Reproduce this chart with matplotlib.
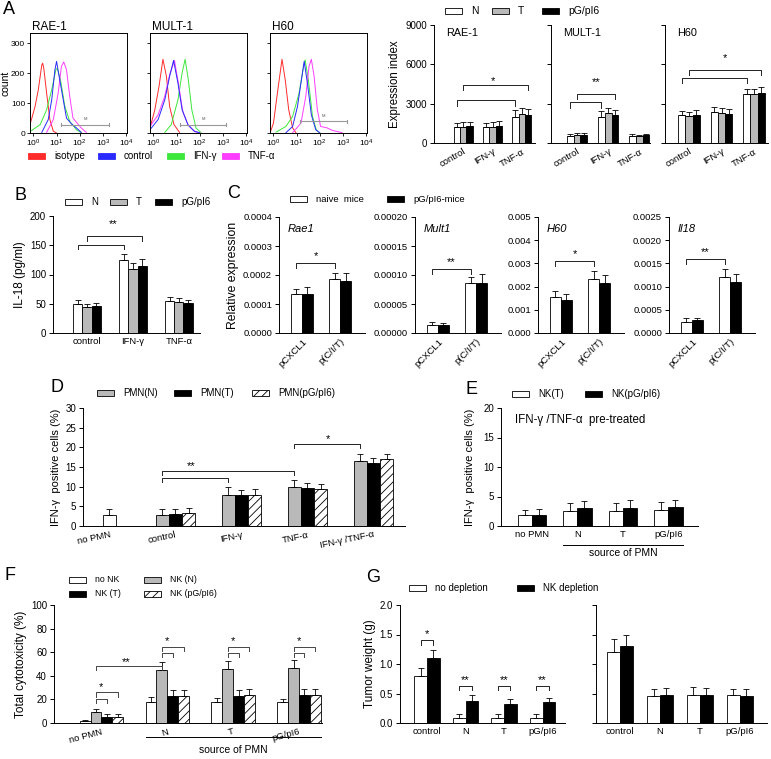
import numpy as np
import matplotlib
matplotlib.use('Agg')
import matplotlib.pyplot as plt
import matplotlib.transforms as mtransforms
from matplotlib.patches import Rectangle
from matplotlib.ticker import FixedLocator, NullLocator, FuncFormatter

plt.rcParams['font.family'] = ['Liberation Sans', 'DejaVu Sans']
plt.rcParams['hatch.linewidth'] = 0.6
plt.rcParams['axes.linewidth'] = 0.7

W, H = 771, 759

# ---------------- A: flow histograms (log10 intensity, count) ----------------
rae_iso = ([-0.15, 0.07, 0.21, 0.36, 0.4, 0.45, 0.57, 0.71, 0.86, 1.0],
           [28, 89, 145, 228, 234, 215, 134, 45, 6, 0])
rae_ctrl = ([0.36, 0.64, 0.79, 0.93, 1.0, 1.11, 1.29, 1.43, 1.64, 1.86, 2.07],
            [2, 45, 111, 212, 240, 190, 111, 50, 31, 17, 2])
rae_ifn = ([-0.15, 0.29, 0.57, 0.79, 0.97, 1.03, 1.17, 1.36, 1.57, 1.86, 2.07],
           [5, 28, 78, 145, 212, 217, 178, 89, 39, 11, 1])
rae_tnf = ([0.57, 0.86, 1.07, 1.21, 1.31, 1.43, 1.57, 1.71, 1.89, 2.07, 2.29],
           [2, 45, 134, 223, 238, 212, 123, 50, 33, 17, 2])

mult_iso = ([-0.15, 0.06, 0.24, 0.41, 0.56, 0.7, 0.89, 1.13],
            [17, 78, 156, 247, 190, 89, 28, 2])
mult_ctrl = ([-0.15, 0.2, 0.49, 0.7, 0.87, 1.06, 1.24, 1.49, 1.77, 1.99],
             [11, 45, 111, 190, 243, 167, 78, 28, 6, 1])
mult_ifn = ([0.49, 0.77, 1.06, 1.24, 1.37, 1.51, 1.66, 1.84, 2.06],
            [2, 28, 111, 201, 247, 178, 78, 17, 1])
mult_tnf = ([-0.15, 0.2, 0.49, 0.7, 0.91, 1.09, 1.27, 1.51, 1.8, 2.01],
            [22, 61, 123, 195, 243, 162, 72, 25, 4, 1])

h60_iso = ([-0.14, 0.0, 0.19, 0.37, 0.51, 0.66, 0.83, 0.97],
           [2, 33, 145, 247, 178, 78, 17, 1])
h60_ctrl = ([0.54, 0.83, 1.04, 1.21, 1.33, 1.47, 1.64, 1.83, 2.0],
            [1, 22, 89, 178, 240, 167, 61, 11, 1])
h60_ifn = ([0.11, 0.54, 0.83, 1.11, 1.29, 1.37, 1.51, 1.69, 1.86, 2.0],
           [3, 22, 56, 134, 217, 245, 178, 56, 9, 1])
h60_tnf = ([0.83, 1.19, 1.4, 1.54, 1.64, 1.76, 1.9, 2.04, 2.33, 2.54, 2.97],
           [1, 33, 123, 223, 247, 190, 78, 22, 17, 9, 1])

hist_titles = ['RAE-1', 'MULT-1', 'H60']
hist_labels = ['isotype', 'control', 'IFN-γ', 'TNF-α']
hist_colors = ['#ff2a2a', '#2a2aff', '#3ce83c', '#ff3cff']

# ---------------- A: expression index bars ----------------
a_groups = ['control', 'IFN-γ', 'TNF-α']
a_rae_N = [1200, 1200, 2000]
a_rae_T = [1250, 1250, 2200]
a_rae_P = [1300, 1300, 2100]
a_rae_Ne = [350, 350, 500]
a_rae_Te = [330, 380, 500]
a_rae_Pe = [330, 350, 500]
a_mult_N = [550, 2000, 550]
a_mult_T = [580, 2250, 520]
a_mult_P = [580, 2150, 580]
a_mult_Ne = [150, 450, 100]
a_mult_Te = [150, 400, 120]
a_mult_Pe = [150, 400, 130]
a_h60_N = [2100, 2400, 3700]
a_h60_T = [2050, 2300, 3700]
a_h60_P = [2150, 2200, 3800]
a_h60_Ne = [350, 350, 450]
a_h60_Te = [350, 350, 450]
a_h60_Pe = [350, 400, 450]

# ---------------- B: IL-18 ----------------
b_groups = ['control', 'IFN-γ', 'TNF-α']
b_N = [50, 125, 55]
b_T = [45, 110, 53]
b_P = [46, 115, 52]
b_Ne = [6, 10, 6]
b_Te = [5, 10, 6]
b_Pe = [6, 11, 5]

# ---------------- C: relative expression ----------------
c_groups = ['pCXCL1', 'p(C/I/T)']
c_titles = ['Rae1', 'Mult1', 'H60', 'Il18']
c_rae_naive = [0.000133, 0.000186]
c_rae_pg = [0.000133, 0.000180]
c_rae_naive_e = [0.000020, 0.000022]
c_rae_pg_e = [0.000025, 0.000027]
c_mult_naive = [0.000014, 0.000086]
c_mult_pg = [0.000013, 0.000086]
c_mult_naive_e = [0.000005, 0.000010]
c_mult_pg_e = [0.000005, 0.000015]
c_h60_naive = [0.00155, 0.00232]
c_h60_pg = [0.00143, 0.00216]
c_h60_naive_e = [0.00025, 0.00037]
c_h60_pg_e = [0.00025, 0.00035]
c_il18_naive = [0.00024, 0.00120]
c_il18_pg = [0.00027, 0.00110]
c_il18_naive_e = [0.00008, 0.00017]
c_il18_pg_e = [0.00006, 0.00017]

# ---------------- D: IFN-γ positive cells ----------------
d_groups = ['no PMN', 'control', 'IFN-γ', 'TNF-α', 'IFN-γ /TNF-α']
d_nopmn = [2.7]
d_nopmn_e = [1.5]
d_N = [2.9, 7.8, 10.0, 16.5]
d_T = [3.0, 7.8, 9.6, 16.1]
d_P = [3.2, 8.0, 9.4, 17.0]
d_Ne = [1.3, 2.0, 1.8, 1.8]
d_Te = [1.3, 1.4, 1.4, 1.3]
d_Pe = [1.3, 1.3, 1.2, 1.2]

# ---------------- E ----------------
e_groups = ['no PMN', 'N', 'T', 'pG/pI6']
e_T = [1.8, 2.6, 2.5, 2.7]
e_P = [1.8, 3.0, 3.1, 3.2]
e_Te = [0.9, 1.3, 1.4, 1.4]
e_Pe = [1.1, 1.2, 1.3, 1.2]

# ---------------- F: cytotoxicity ----------------
f_groups = ['no PMN', 'N', 'T', 'pG/pI6']
f_noNK = [2, 18, 17.5, 17.5]
f_NKN = [9, 45, 46, 46.5]
f_NKT = [5.5, 23, 23, 23.5]
f_NKP = [5.5, 23, 24, 24]
f_noNKe = [0.7, 4, 3.5, 3]
f_NKNe = [3, 6.5, 6.5, 7]
f_NKTe = [2, 5, 5, 5]
f_NKPe = [2, 5, 5, 5]

# ---------------- G: tumor weight ----------------
g_groups = ['control', 'N', 'T', 'pG/pI6']
g_nodep = [0.80, 0.08, 0.08, 0.08]
g_nkdep = [1.10, 0.37, 0.33, 0.35]
g_nodep_e = [0.14, 0.07, 0.07, 0.08]
g_nkdep_e = [0.13, 0.10, 0.07, 0.08]
g2_nodep = [1.20, 0.45, 0.48, 0.47]
g2_nkdep = [1.30, 0.48, 0.47, 0.45]
g2_nodep_e = [0.22, 0.13, 0.13, 0.11]
g2_nkdep_e = [0.19, 0.12, 0.13, 0.12]

WHITE = dict(facecolor='white')
GRAY = dict(facecolor='#b9b9b9')
BLACK = dict(facecolor='black')
HATCH = dict(facecolor='white', hatch='////')

fig = plt.figure(figsize=(W / 100, H / 100), dpi=100)


def px_axes(l, t, r, b):
    return fig.add_axes([l / W, 1 - b / H, (r - l) / W, (b - t) / H])


def bar_axes(l, t, r, b):
    ax = px_axes(l, t, r, b)
    ax.spines['top'].set_visible(False)
    ax.spines['right'].set_visible(False)
    ax.tick_params(axis='y', length=3, width=0.7, labelsize=7, pad=2)
    ax.tick_params(axis='x', length=0, labelsize=6.8, pad=3)
    return ax


def draw_bars(ax, series, errs, styles, width):
    n = len(series)
    for k in range(n):
        x = np.arange(len(series[k])) + (k - (n - 1) / 2) * width
        ax.bar(x, series[k], width, edgecolor='black', linewidth=0.6, **styles[k])
        ax.errorbar(x, series[k], yerr=[np.zeros(len(x)), errs[k]], fmt='none',
                    ecolor='black', elinewidth=0.6, capsize=2, capthick=0.6)


def bracket(ax, x1, x2, y, drop, color='#222222'):
    ax.plot([x1, x1, x2, x2], [y - drop, y, y, y - drop], color=color, lw=0.7)


def star(ax, x, y, s, size=8):
    ax.text(x, y, s, ha='center', va='center', fontsize=size)


def legend_item(x, y, style, label, w=17, h=6, size=7, edge='black'):
    fig.add_artist(Rectangle((x / W, 1 - (y + h / 2) / H), w / W, h / H,
                             transform=fig.transFigure, edgecolor=edge,
                             linewidth=0.6, **style))
    fig.text((x + w + 9) / W, 1 - y / H, label, fontsize=size, va='center', ha='left')


def letter(x, y, s):
    fig.text(x / W, 1 - y / H, s, fontsize=13, ha='center', va='center')


# ================= A: histograms =================
hist_sets = [[rae_iso, rae_ctrl, rae_ifn, rae_tnf],
             [mult_iso, mult_ctrl, mult_ifn, mult_tnf],
             [h60_iso, h60_ctrl, h60_ifn, h60_tnf]]
gates = [(1.21, 3.26, 28), (1.13, 3.16, 28), (1.14, 3.19, 39)]
for i, left in enumerate([30, 150, 270]):
    ax = px_axes(left, 33, left + 97, 133)
    curves = hist_sets[i]
    for j in [0, 2, 3, 1]:
        lx, cy = curves[j]
        ax.plot(10 ** np.array(lx), cy, color=hist_colors[j], lw=0.7)
    g0, g1, gy = gates[i]
    ax.plot([10 ** g0, 10 ** g1], [gy, gy], color='#999999', lw=0.8)
    ax.plot([10 ** g0] * 2, [gy - 6, gy + 6], color='#999999', lw=0.8)
    ax.plot([10 ** g1] * 2, [gy - 6, gy + 6], color='#999999', lw=0.8)
    ax.text(10 ** ((g0 + g1) / 2), gy + 14, 'M', fontsize=3, ha='center', color='#555555')
    ax.set_xscale('log')
    ax.set_xlim(10 ** -0.15, 10 ** 4.05)
    ax.set_ylim(0, 335)
    ax.xaxis.set_major_locator(FixedLocator([1, 10, 100, 1000, 10000]))
    ax.xaxis.set_minor_locator(NullLocator())
    ax.set_yticks([0, 100, 200, 300])
    ax.tick_params(length=2, width=0.6, labelsize=6, pad=1.5)
    if i == 0:
        ax.set_ylabel('count', fontsize=7.5)
        ax.yaxis.set_label_coords(-0.2, 0.5)
    else:
        ax.tick_params(axis='y', labelleft=False)
    fig.text((left + 2) / W, 1 - 27 / H, hist_titles[i], fontsize=8.5, va='center')

legend_x = [28, 98, 167, 222]
for j in range(4):
    legend_item(legend_x[j], 156, dict(facecolor=hist_colors[j]), hist_labels[j],
                edge=hist_colors[j])
letter(9, 9, 'A')

# ================= A: expression index =================
a_sets = [
    ([a_rae_N, a_rae_T, a_rae_P], [a_rae_Ne, a_rae_Te, a_rae_Pe], (434, 535), (-1.0, 2.45)),
    ([a_mult_N, a_mult_T, a_mult_P], [a_mult_Ne, a_mult_Te, a_mult_Pe], (551, 650), (-0.84, 2.35)),
    ([a_h60_N, a_h60_T, a_h60_P], [a_h60_Ne, a_h60_Te, a_h60_Pe], (665, 768), (-0.74, 2.43)),
]
wa = 0.22
a_axes = []
for i, (ser, err, (l, r), xl) in enumerate(a_sets):
    ax = bar_axes(l, 25, r, 143)
    draw_bars(ax, ser, err, [WHITE, GRAY, BLACK], wa)
    ax.set_xlim(*xl)
    ax.set_ylim(0, 9000)
    ax.set_yticks([0, 3000, 6000, 9000])
    ax.set_xticks(range(3))
    ax.set_xticklabels(a_groups, rotation=30, ha='right', rotation_mode='anchor')
    ax.text(0.12, 0.93, hist_titles[i], transform=ax.transAxes, fontsize=7.8, va='center')
    if i == 0:
        ax.set_ylabel('Expression index', fontsize=8.3, labelpad=3)
    else:
        ax.tick_params(axis='y', labelleft=False)
    a_axes.append(ax)

ax = a_axes[0]
bracket(ax, -wa, 2 - wa, 3270, 450)
bracket(ax, 0, 2 + wa, 4410, 400)
star(ax, 1.0, 4750, '*')
ax = a_axes[1]
bracket(ax, -wa, 1 - wa, 3100, 400)
bracket(ax, 0, 1 + wa, 3730, 400)
star(ax, 0.6, 4650, '**')
ax = a_axes[2]
bracket(ax, -wa, 2 - wa, 4950, 400)
bracket(ax, 0, 2 + wa, 5550, 400)
star(ax, 1.1, 6450, '*')

legend_item(445, 11, WHITE, 'N', size=7.5)
legend_item(492, 11, GRAY, 'T', size=7.5)
legend_item(542, 11, BLACK, 'pG/pI6', size=7.5)

# ================= B =================
wb = 0.2
ax = bar_axes(53, 216, 200, 333)
draw_bars(ax, [b_N, b_T, b_P], [b_Ne, b_Te, b_Pe], [WHITE, GRAY, BLACK], wb)
ax.set_xlim(-0.74, 2.46)
ax.set_ylim(0, 200)
ax.set_yticks([0, 50, 100, 150, 200])
ax.set_xticks(range(3))
ax.set_xticklabels(b_groups)
ax.set_ylabel('IL-18 (pg/ml)', fontsize=8.5, labelpad=3)
bracket(ax, -wb, 1 - wb, 151, 8)
bracket(ax, 0, 1 + wb, 165, 8)
star(ax, 0.57, 186, '**')
legend_item(65, 202, WHITE, 'N')
legend_item(110, 202, GRAY, 'T')
legend_item(155, 202, BLACK, 'pG/pI6')
letter(21, 195, 'B')

# ================= C =================
c_sets = [
    ([c_rae_naive, c_rae_pg], [c_rae_naive_e, c_rae_pg_e], 279, 0.0004, 0.0001, '{:.4f}', 0.00024, '*'),
    ([c_mult_naive, c_mult_pg], [c_mult_naive_e, c_mult_pg_e], 415, 0.0002, 0.00005, '{:.5f}', 0.00011, '**'),
    ([c_h60_naive, c_h60_pg], [c_h60_naive_e, c_h60_pg_e], 538, 0.005, 0.001, '{:.3f}', 0.0031, '*'),
    ([c_il18_naive, c_il18_pg], [c_il18_naive_e, c_il18_pg_e], 669, 0.0025, 0.0005, '{:.4f}', 0.00159, '**'),
]
wc = 0.29
for i, (ser, err, l, top, step, fmt, by, s) in enumerate(c_sets):
    ax = bar_axes(l, 217, l + 86, 333)
    draw_bars(ax, ser, err, [WHITE, BLACK], wc)
    ax.set_xlim(-0.6, 1.65)
    ax.set_ylim(0, top)
    ax.set_yticks(np.arange(0, top + step / 2, step))
    ax.yaxis.set_major_formatter(FuncFormatter(lambda v, p, f=fmt: f.format(v)))
    ax.tick_params(axis='y', labelsize=6.8)
    ax.set_xticks(range(2))
    ax.set_xticklabels(c_groups, rotation=45, ha='right', rotation_mode='anchor')
    ax.text(0.1, 0.9, c_titles[i], transform=ax.transAxes, fontsize=8,
            style='italic', va='center')
    bracket(ax, -wc / 2, 1 - wc / 2, by, top * 0.04)
    star(ax, 0.5 - wc / 2, by + top * 0.06, s)
    if i == 0:
        ax.set_ylabel('Relative expression', fontsize=8.8, labelpad=3)
legend_item(290, 199, WHITE, 'naive  mice', size=6.8)
legend_item(387, 199, BLACK, 'pG/pI6-mice', size=6.8)
letter(234, 194, 'C')

# ================= D =================
wd = 0.2
ax = bar_axes(83, 408, 405, 526)
ax.bar([0], d_nopmn, wd, edgecolor='black', linewidth=0.6, **WHITE)
ax.errorbar([0], d_nopmn, yerr=[[0], d_nopmn_e], fmt='none', ecolor='black',
            elinewidth=0.6, capsize=2, capthick=0.6)
pos = np.arange(1, 5)
for k, (ser, err, st) in enumerate(zip([d_N, d_T, d_P], [d_Ne, d_Te, d_Pe], [GRAY, BLACK, HATCH])):
    x = pos + (k - 1) * wd
    ax.bar(x, ser, wd, edgecolor='black', linewidth=0.6, **st)
    ax.errorbar(x, ser, yerr=[np.zeros(4), err], fmt='none', ecolor='black',
                elinewidth=0.6, capsize=2, capthick=0.6)
ax.set_xlim(-0.4, 4.48)
ax.set_ylim(0, 30)
ax.set_yticks(range(0, 31, 5))
ax.set_xticks(range(5))
ax.set_xticklabels(d_groups, rotation=12, ha='right', rotation_mode='anchor')
ax.set_ylabel('IFN-γ  positive cells (%)', fontsize=8, labelpad=3)
bracket(ax, 1 - wd, 2 - wd, 12.1, 1.0)
bracket(ax, 1 - wd, 3 - wd, 13.9, 1.0)
star(ax, 1.24, 15.3, '**')
bracket(ax, 3 - wd, 4 - wd, 20.8, 1.0)
star(ax, 3.32, 22.2, '*')
legend_item(97, 393, GRAY, 'PMN(N)')
legend_item(174, 393, BLACK, 'PMN(T)')
legend_item(252, 393, HATCH, 'PMN(pG/pI6)')
letter(57, 387, 'D')

# ================= E =================
we = 0.31
ax = bar_axes(501, 408, 698, 526)
draw_bars(ax, [e_T, e_P], [e_Te, e_Pe], [WHITE, BLACK], we)
ax.set_xlim(-0.68, 3.65)
ax.set_ylim(0, 20)
ax.set_yticks(range(0, 21, 5))
ax.set_xticks(range(4))
ax.set_xticklabels(e_groups)
ax.set_ylabel('IFN-γ  positive cells (%)', fontsize=8, labelpad=6)
ax.text(0.07, 0.9, 'IFN-γ /TNF-α  pre-treated', transform=ax.transAxes,
        fontsize=8.3, va='center')
tr = mtransforms.blended_transform_factory(ax.transData, ax.transAxes)
ax.plot([1 - we, 3 + we], [-0.161, -0.161], color='black', lw=0.7,
        transform=tr, clip_on=False)
ax.text(2, -0.229, 'source of PMN', transform=tr, ha='center', va='center', fontsize=7.5)
legend_item(512, 394, WHITE, 'NK(T)')
legend_item(585, 394, BLACK, 'NK(pG/pI6)')
letter(471, 389, 'E')

# ================= F =================
wf = 0.165
ax = bar_axes(54, 605, 322, 723)
draw_bars(ax, [f_noNK, f_NKN, f_NKT, f_NKP], [f_noNKe, f_NKNe, f_NKTe, f_NKPe],
          [WHITE, GRAY, BLACK, HATCH], wf)
ax.set_xlim(-0.72, 3.35)
ax.set_ylim(0, 100)
ax.set_yticks(range(0, 101, 20))
ax.set_xticks(range(4))
ax.set_xticklabels(f_groups, rotation=15, ha='right', rotation_mode='anchor')
ax.set_ylabel('Total cytotoxicity (%)', fontsize=8.5, labelpad=3)
bcol = '#444444'
for g in range(4):
    yin, yout = (20.3, 25.9) if g == 0 else (59.2, 64.8)
    bracket(ax, g - wf / 2, g + wf / 2, yin, 3.5, bcol)
    bracket(ax, g - wf / 2, g + 1.5 * wf, yout, 3.5, bcol)
    star(ax, g, yout + 4.3, '*')
bracket(ax, -wf / 2, 1 - wf / 2, 47.9, 3.0, bcol)
star(ax, 0.37, 52, '**')
tr = mtransforms.blended_transform_factory(ax.transData, ax.transAxes)
ax.plot([1 - 2 * wf, 3 + 2 * wf], [-0.119, -0.119], color='black', lw=0.7,
        transform=tr, clip_on=False)
ax.text(2, -0.23, 'source of PMN', transform=tr, ha='center', va='center', fontsize=7.5)
legend_item(69, 580, WHITE, 'no NK', size=6.3)
legend_item(144, 580, GRAY, 'NK (N)', size=6.3)
legend_item(69, 594, BLACK, 'NK (T)', size=6.3)
legend_item(144, 594, HATCH, 'NK (pG/pI6)', size=6.3)
letter(10, 576, 'F')

# ================= G =================
wg = 0.33
ax = bar_axes(400, 605, 565, 723)
draw_bars(ax, [g_nodep, g_nkdep], [g_nodep_e, g_nkdep_e], [WHITE, BLACK], wg)
ax.set_xlim(-0.7, 3.58)
ax.set_ylim(0, 2.0)
ax.set_yticks([0, 0.5, 1.0, 1.5, 2.0])
ax.yaxis.set_major_formatter(FuncFormatter(lambda v, p: '{:.1f}'.format(v)))
ax.set_xticks(range(4))
ax.set_xticklabels(g_groups)
ax.set_ylabel('Tumor weight (g)', fontsize=8.5, labelpad=3)
for g in range(4):
    yb = 1.40 if g == 0 else 0.63
    bracket(ax, g - wg / 2, g + wg / 2, yb, 0.07)
    star(ax, g, yb + 0.1, '*' if g == 0 else '**')

ax = bar_axes(596, 605, 767, 723)
draw_bars(ax, [g2_nodep, g2_nkdep], [g2_nodep_e, g2_nkdep_e], [WHITE, BLACK], 0.32)
ax.set_xlim(-0.6, 3.68)
ax.set_ylim(0, 2.0)
ax.set_yticks([0, 0.5, 1.0, 1.5, 2.0])
ax.tick_params(axis='y', labelleft=False)
ax.set_xticks(range(4))
ax.set_xticklabels(g_groups)
legend_item(409, 588, WHITE, 'no depletion')
legend_item(517, 588, BLACK, 'NK depletion')
letter(373, 577, 'G')

fig.savefig('out.png', dpi=100)
